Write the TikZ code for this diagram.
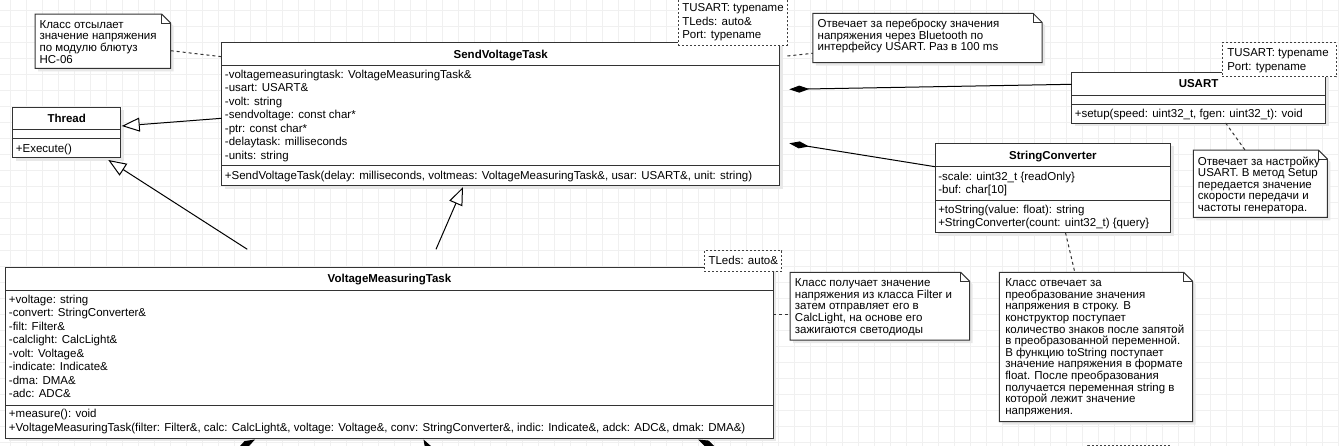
\documentclass[tikz,border=0pt]{standalone}
\usepackage{fontspec}
\setmainfont{Liberation Sans}
\usetikzlibrary{arrows.meta,fit}
\newcommand\cf{\fontsize{8.625pt}{10.125pt}\selectfont\lineskiplimit=-30pt\lineskip=0pt\relax}
\newcommand\nf{\fontsize{8.625pt}{8.7pt}\selectfont\lineskiplimit=-30pt\lineskip=0pt\relax}
\newcommand\fl{\rule{0pt}{8pt}}
\newcommand\umlclass[5]{%
  \fill[shadowc] (#2+3,#3+3) rectangle (#4+3,#5+3);
  \node[umlbox, fit={(#2,#3)(#4,#5)}] (#1) {};
}
\newcommand\notebox[5]{%
  \fill[shadowc] (#2+3,#3+3) -- (#4+3-9,#3+3) -- (#4+3,#3+3+9) -- (#4+3,#5+3) -- (#2+3,#5+3) -- cycle;
  \node[inner sep=0, fit={(#2,#3)(#4,#5)}] (#1) {};
  \filldraw[notebox] (#2,#3) -- (#4-9,#3) -- (#4,#3+9) -- (#4,#5) -- (#2,#5) -- cycle;
  \draw[notebox, fill=none] (#4-9,#3) -- (#4-9,#3+9) -- (#4,#3+9);
}
\tikzset{
 gridline/.style={draw=black!6, line width=0.75pt},
 shadowc/.style={fill=black!9},
 umlbox/.style={draw=black!80, fill=white, line width=0.75pt, inner sep=0},
 sepline/.style={draw=black!80, line width=0.75pt},
 ttl/.style={font=\cf\bfseries, inner sep=0, anchor=base},
 attr/.style={font=\cf, inner sep=0, anchor=north west, align=left},
 notetxt/.style={font=\nf, inner sep=0, anchor=north west, align=left},
 notebox/.style={draw=black!80, fill=white, line width=0.75pt},
 tmpl/.style={draw=black!75, fill=white, line width=0.75pt, dash pattern=on 1.5pt off 1.5pt, inner sep=0},
 notelink/.style={draw=black!80, line width=0.75pt, dash pattern=on 2.25pt off 2.25pt},
 gen/.style={draw=black, line width=0.75pt, -{Triangle[open, length=13.5pt, width=10.5pt, fill=white]}},
 compo/.style={draw=black, line width=0.75pt, -{Diamond[length=15pt, width=5.25pt]}},
}
\begin{document}
\begin{tikzpicture}[x=0.75pt,y=-0.75pt]
\useasboundingbox (0,0) rectangle (1339,446);
\clip (0,0) rectangle (1339,446);
\fill[white] (0,0) rectangle (1339,446);
\foreach \gx in {10,26,...,1338} \draw[gridline] (\gx,0) -- (\gx,446);
\foreach \gy in {10,26,...,446} \draw[gridline] (0,\gy) -- (1339,\gy);

% ---------- Thread
\umlclass{thread}{12.7}{107.3}{120.7}{157.7}
\draw[sepline] (12.7,129.3) -- (120.7,129.3);
\draw[sepline] (12.7,138.7) -- (120.7,138.7);
\node[ttl] (threadT) at (66.7,122.4) {Thread};
\node[attr] (threadM) at (15.7,152.3-10.667) {\fl +Execute()};

% ---------- SendVoltageTask
\umlclass{svt}{221.7}{42.7}{779.8}{185.7}
\draw[sepline] (221.7,65) -- (779.8,65);
\draw[sepline] (221.7,165.7) -- (779.8,165.7);
\node[ttl] (svtT) at (500.75,58) {SendVoltageTask};
\node[attr] (svtA) at (224.7,78.1-10.667) {\fl -voltagemeasuringtask: VoltageMeasuringTask\&\\-usart: USART\&\\-volt: string\\-sendvoltage: const char*\\-ptr: const char*\\-delaytask: milliseconds\\-units: string};
\node[attr] (svtM) at (224.7,179.5-10.667) {\fl +SendVoltageTask(delay: milliseconds, voltmeas: VoltageMeasuringTask\&, usar: USART\&, unit: string)};
\node[tmpl, fit={(678,-4)(787.4,45)}] (svtTp) {};
\node[attr] (svtTpT) at (682,11.4-10.667) {\fl TUSART: typename\\TLeds: auto\&\\Port: typename};

% ---------- USART
\umlclass{usart}{1071.6}{72}{1325.5}{123}
\draw[sepline] (1071.6,95) -- (1325.5,95);
\draw[sepline] (1071.6,104) -- (1325.5,104);
\node[ttl] (usartT) at (1198.55,87.6) {USART};
\node[attr] (usartM) at (1074.6,117.3-10.667) {\fl +setup(speed: uint32\_t, fgen: uint32\_t): void};
\node[tmpl, fit={(1222,42.7)(1336,76.7)}] (usartTp) {};
\node[attr] (usartTpT) at (1227,56.4-10.667) {\fl TUSART: typename\\Port: typename};

% ---------- StringConverter
\umlclass{sc}{935}{143.3}{1170.7}{232.7}
\draw[sepline] (935,166.7) -- (1170.7,166.7);
\draw[sepline] (935,200) -- (1170.7,200);
\node[ttl] (scT) at (1052.85,159.1) {StringConverter};
\node[attr] (scA) at (938,179.8-10.667) {\fl -scale: uint32\_t \{readOnly\}\\-buf: char[10]};
\node[attr] (scM) at (938,213.1-10.667) {\fl +toString(value: float): string\\+StringConverter(count: uint32\_t) \{query\}};

% ---------- VoltageMeasuringTask
\umlclass{vmt}{5.7}{267.3}{773.3}{438}
\draw[sepline] (5.7,290) -- (773.3,290);
\draw[sepline] (5.7,405) -- (773.3,405);
\node[ttl] (vmtT) at (389.5,282.7) {VoltageMeasuringTask};
\node[attr] (vmtA) at (8.7,303.1-10.667) {\fl +voltage: string\\-convert: StringConverter\&\\-filt: Filter\&\\-calclight: CalcLight\&\\-volt: Voltage\&\\-indicate: Indicate\&\\-dma: DMA\&\\-adc: ADC\&};
\node[attr] (vmtM) at (8.7,417.4-10.667) {\fl +measure(): void\\+VoltageMeasuringTask(filter: Filter\&, calc: CalcLight\&, voltage: Voltage\&, conv: StringConverter\&, indic: Indicate\&, adck: ADC\&, dmak: DMA\&)};
\node[tmpl, fit={(704,250.7)(781.7,271)}] (vmtTp) {};
\node[attr] (vmtTpT) at (708.3,264.1-10.667) {\fl TLeds: auto\&};

% ---------- notes
\notebox{n1}{35}{14}{170.7}{68.3}
\node[notetxt] (n1t) at (39.3,28.1-10.667) {\fl Класс отсылает\\значение напряжения\\по модулю блютуз\\HC-06};
\notebox{n2}{812.8}{13.3}{1042}{62.7}
\node[notetxt] (n2t) at (817.4,27.4-10.667) {\fl Отвечает за переброску значения\\напряжения через Bluetooth по\\интерфейсу USART. Раз в 100 ms};
\notebox{nU}{1193.3}{150}{1327.3}{217.3}
\node[notetxt] (nUt) at (1197.7,164.8-10.667) {\fl Отвечает за настройку\\USART. В метод Setup\\передается значение\\скорости передачи и\\частоты генератора.};
\notebox{nV}{790}{272.3}{969.6}{340}
\node[notetxt] (nVt) at (794.7,286.4-10.667) {\fl Класс получает значение\\напряжения из класса Filter и\\затем отправляет его в\\CalcLight, на основе его\\зажигаются светодиоды};
\notebox{nS}{999.3}{272.3}{1192.7}{421.7}
\node[notetxt] (nSt) at (1005,286.4-10.667) {\fl Класс отвечает за\\преобразование значения\\напряжения в строку. В\\конструктор поступает\\количество знаков после запятой\\в преобразованной переменной.\\В функцию toString поступает\\значение напряжения в формате\\float. После преобразования\\получается переменная string в\\которой лежит значение\\напряжения.};

% ---------- note links
\coordinate (n1c) at (170.7,50.7); \coordinate (svtc1) at (221.7,56.7);
\draw[notelink] (n1c) -- (svtc1);
\coordinate (n2c) at (812.8,53.3); \coordinate (svtc2) at (787.4,56);
\draw[notelink] (svtc2) -- (n2c);
\coordinate (usartc) at (1225.6,123); \coordinate (nUc) at (1245,150);
\draw[notelink] (usartc) -- (nUc);
\coordinate (scc) at (1065.5,232.7); \coordinate (nSc) at (1074.8,272.3);
\draw[notelink] (scc) -- (nSc);
\coordinate (vmtc) at (773.3,314); \coordinate (nVc) at (790,314);
\draw[notelink] (vmtc) -- (nVc);

% ---------- generalizations
\coordinate (svtL) at (221.7,118.3); \coordinate (thrR) at (121.7,126);
\draw[gen] (svtL) -- (thrR);
\coordinate (g1s) at (247.3,249.3); \coordinate (thrB) at (108.3,160);
\draw[gen] (g1s) -- (thrB);
\coordinate (g2s) at (436,249.3); \coordinate (svtB) at (463,187);
\draw[gen] (g2s) -- (svtB);

% ---------- compositions
\coordinate (usartL) at (1071.6,84.3); \coordinate (dU) at (789.3,89.3);
\draw[compo] (usartL) -- (dU);
\coordinate (scL) at (935,166.7); \coordinate (dS) at (789.3,143.3);
\draw[compo] (scL) -- (dS);
\coordinate (b1s) at (167,486.5); \coordinate (b1) at (255,439.5);
\draw[compo] (b1s) -- (b1);
\coordinate (b2s) at (473,527); \coordinate (b2) at (423.5,439.5);
\draw[compo] (b2s) -- (b2);
\coordinate (b3s) at (788.6,481.8); \coordinate (b3) at (698,439.5);
\draw[compo] (b3s) -- (b3);

% ---------- cut-off template box at bottom
\node[tmpl, fit={(1087.5,445)(1171,480)}] (botTp) {};
\end{tikzpicture}
\end{document}
